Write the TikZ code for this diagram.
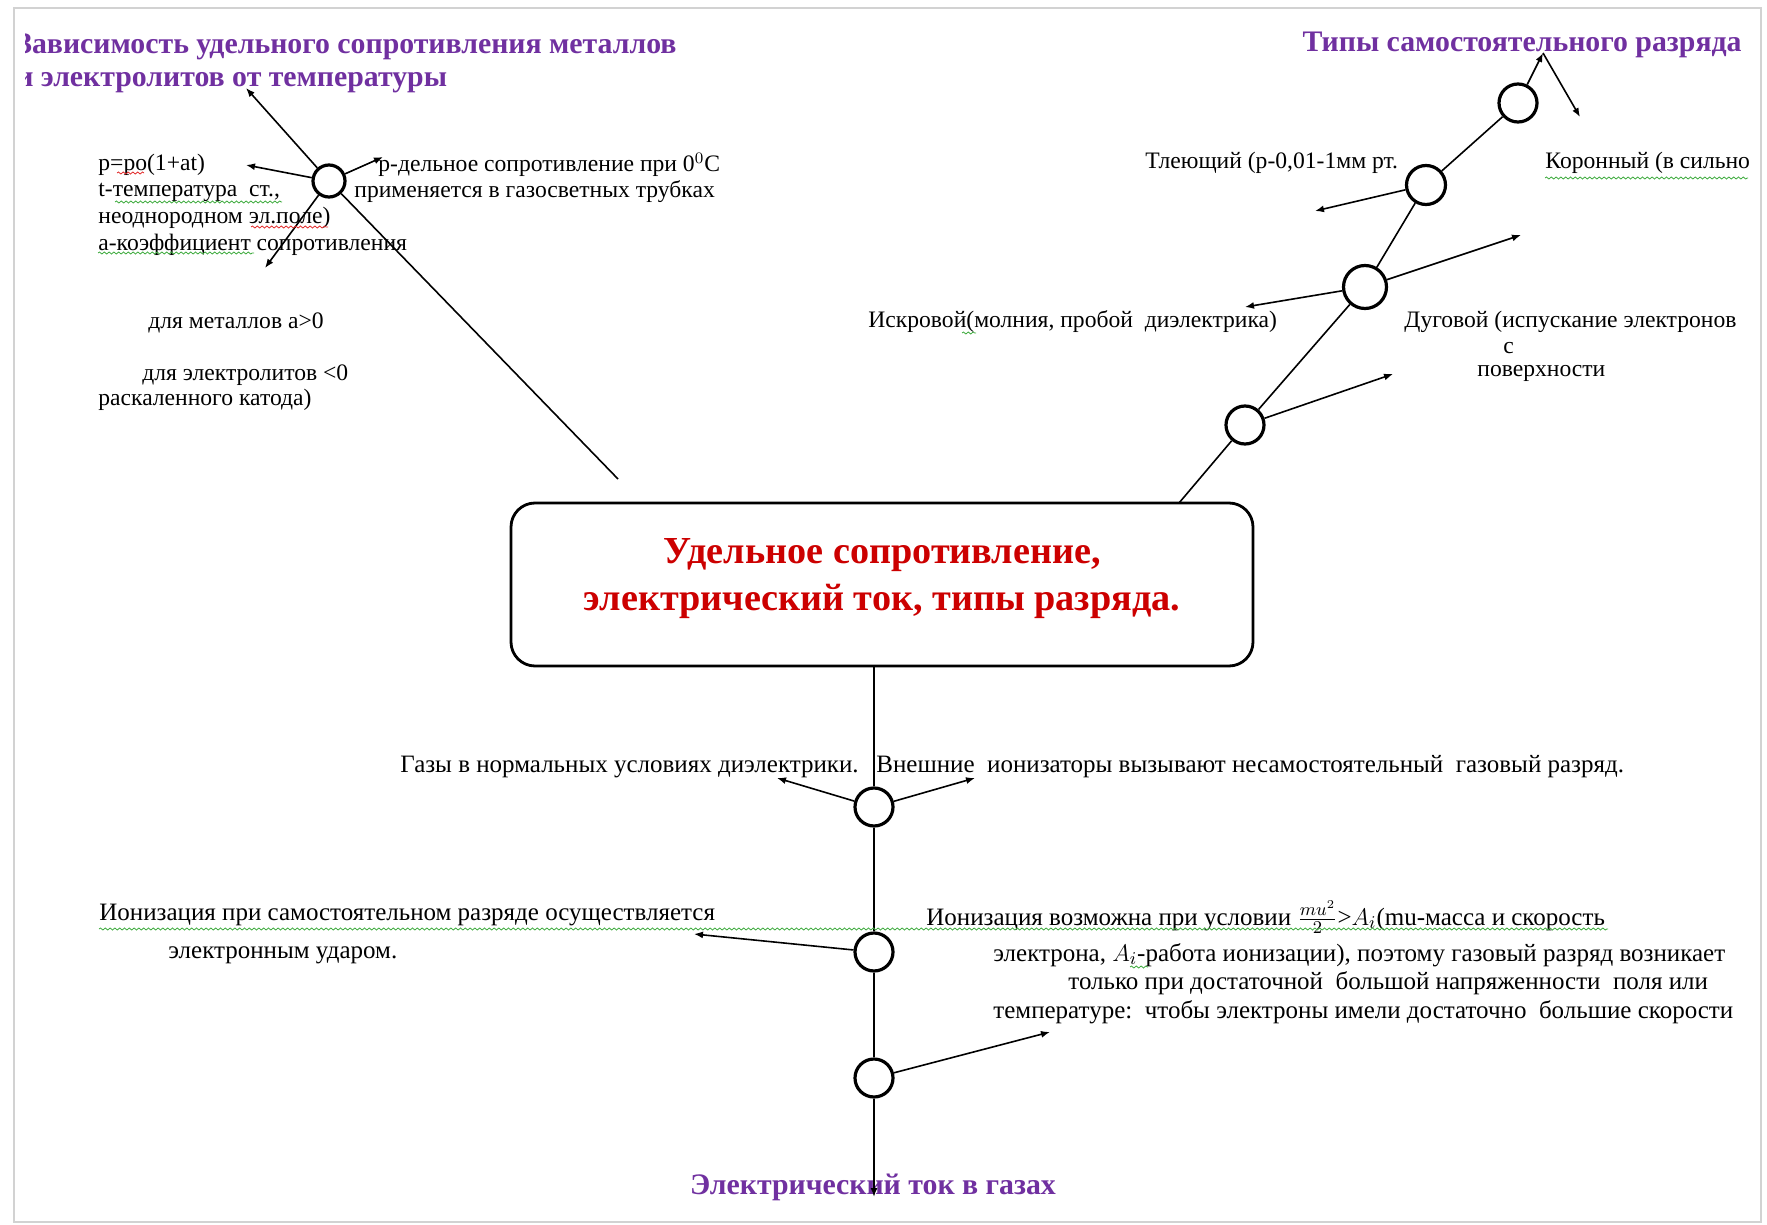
\documentclass[tikz,border=0pt]{standalone}
\usepackage{fontspec}
\setmainfont{Liberation Serif}
\usetikzlibrary{arrows.meta,decorations.pathmorphing}
\definecolor{headviolet}{RGB}{112,48,160}
\definecolor{titlered}{RGB}{204,0,0}
\definecolor{spellgreen}{RGB}{60,170,60}
\definecolor{spellred}{RGB}{225,40,40}
\tikzset{
  ring/.style={circle, draw, line width=1.6pt, fill=white, minimum size=19pt, inner sep=0pt},
  arr/.style={-{Latex[length=4.5pt,width=3.5pt]}, line width=0.8pt},
  note/.style={font=\fontsize{11.8}{13}\selectfont, inner sep=0pt, anchor=west},
  lownote/.style={note, font=\fontsize{12.5}{14}\selectfont},
  head/.style={font=\fontsize{14.9}{17}\selectfont\bfseries, text=headviolet, inner sep=0pt},
  squig/.style={decorate, decoration={snake, amplitude=0.5pt, segment length=2.4pt}, line width=0.4pt},
}
\begin{document}
\begin{tikzpicture}[x=0.5pt, y=-0.5pt]
\useasboundingbox (0,0) rectangle (1767,1225);
% page frame
\draw[gray!35, line width=1pt] (14,8) rectangle (1761,1222);

%--- central box ---
\node[draw, rounded corners=12pt, line width=1.4pt, minimum width=371pt, minimum height=81.5pt] (box) at (882,584.5) {};
\node[font=\fontsize{19.1}{23.5}\selectfont\bfseries, text=titlered, align=center] (boxtitle) at (882,579) {Удельное сопротивление,\\электрический ток, типы разряда.};

%--- headings ---
\coordinate (lrow2) at (0,83);
\begin{scope}
  \clip (25,0) rectangle (1767,1225);
  \node[head, anchor=east] (lhead1) at (677,47) {Зависимость удельного сопротивления металлов};
  \node[head, anchor=west] (lhead2) at (lhead1.west |- lrow2) {и электролитов от температуры};
\end{scope}
\node[head, anchor=east] (rhead) at (1742,45) {Типы самостоятельного разряда};
\node[head] (bhead) at (873,1187) {Электрический ток в газах};

%--- left branch: temperature dependence ---
\coordinate (lfoot) at (618,479);
\coordinate (ltip) at (246,88);
\coordinate (lformula) at (246,165);
\coordinate (lcoef) at (265,268);
\coordinate (lrho) at (383,157);
\node[ring, minimum size=16pt] (lc) at (329,181) {};
\draw[arr] (lfoot) -- (lc) -- (ltip);
\draw[arr] (lc) -- (lformula);
\draw[arr] (lc) -- (lcoef);
\draw[arr] (lc) -- (lrho);
\node[note] (t1) at (98,165) {p=po(1+at)};
\node[note] (t2) at (98,192) {t-температура\ \ ст.,};
\node[note] (t3) at (98,218) {неоднородном эл.поле)};
\node[note] (t4) at (98,245) {а-коэффициент сопротивления};
\node[note] (t5) at (148,323) {для металлов а>0};
\node[note] (t6) at (142,375) {для электролитов <0};
\node[note] (t7) at (98,400) {раскаленного катода)};
\node[note] (t8) at (378,165) {р-дельное сопротивление при 0$^0$С};
\node[note] (t9) at (354,192) {применяется в газосветных трубках};

%--- right branch: discharge types ---
\coordinate (rfoot) at (1179,503);
\coordinate (rapex) at (1543,53);
\coordinate (rcorona) at (1580,117);
\coordinate (rglow) at (1315,211);
\coordinate (rspark) at (1245,307);
\coordinate (rarc) at (1521,235);
\coordinate (rmore) at (1393,374);
\node[ring] (r1) at (1518,103) {};
\node[ring, minimum size=19.5pt] (r2) at (1426,185) {};
\node[ring, minimum size=21.5pt] (r3) at (1365,287) {};
\node[ring] (r4) at (1245,425) {};
\draw[arr] (rfoot) -- (r4) -- (r3) -- (r2) -- (r1) -- (rapex);
\draw[arr] (rapex) -- (rcorona);
\draw[arr] (r2) -- (rglow);
\draw[arr] (r3) -- (rspark);
\draw[arr] (r3) -- (rarc);
\draw[arr] (r4) -- (rmore);
\node[note] (glow) at (1145,163) {Тлеющий (р-0,01-1мм рт.};
\node[note] (corona) at (1545,163) {Коронный (в сильно};
\node[note] (spark) at (868,322) {Искровой(молния, пробой\ \ диэлектрика)};
\node[note] (arc1) at (1404,322) {Дуговой (испускание электронов};
\node[note] (arc2) at (1503,348) {с};
\node[note] (arc3) at (1477,373) {поверхности};

%--- bottom branch: current in gases ---
\node[ring] (b1) at (874,807) {};
\node[ring] (b2) at (874,952) {};
\node[ring] (b3) at (874,1078) {};
\coordinate (bend) at (874,1197);
\coordinate (bgas) at (777,778);
\coordinate (bext) at (975,778);
\coordinate (bimpact) at (694,934);
\coordinate (bcond) at (1050,1032);
\draw[arr] (box.south -| b1) -- (b1) -- (b2) -- (b3) -- (bend);
\draw[arr] (b1) -- (bgas);
\draw[arr] (b1) -- (bext);
\draw[arr] (b2) -- (bimpact);
\draw[arr] (b3) -- (bcond);
\node[lownote] (gas) at (400,767) {Газы в нормальных условиях диэлектрики.};
\node[lownote] (ext) at (876,767) {Внешние\ \ ионизаторы вызывают несамостоятельный\ \ газовый разряд.};
\node[lownote] (imp1) at (99,915) {Ионизация при самостоятельном разряде осуществляется};
\node[lownote] (imp2) at (168,955) {электронным ударом.};
\node[lownote] (cond1) at (926,917) {Ионизация возможна при условии $\frac{mu^2}{2}$>$A_i$(mu-масса и скорость};
\node[lownote] (cond2) at (993,955) {электрона, $A_i$-работа ионизации), поэтому газовый разряд возникает};
\node[lownote] (cond3) at (1068,983) {только при достаточной\ \ большой напряженности\ \ поля или};
\node[lownote] (cond4) at (993,1012) {температуре:\ \ чтобы электроны имели достаточно\ \ большие скорости};

%--- spell-check underlines ---
\draw[squig, spellgreen] (99,929) -- (1608,929);
\draw[squig, spellgreen] (115,202) -- (282,202);
\draw[squig, spellred] (251,227) -- (328,227);
\draw[squig, spellgreen] (98,253) -- (254,253);
\draw[squig, spellred] (117,173) -- (144,173);
\draw[squig, spellgreen] (1545,178) -- (1748,178);
\draw[squig, spellgreen] (962,333) -- (976,333);
\draw[squig, spellgreen] (1130,967) -- (1148,967);
\end{tikzpicture}
\end{document}
